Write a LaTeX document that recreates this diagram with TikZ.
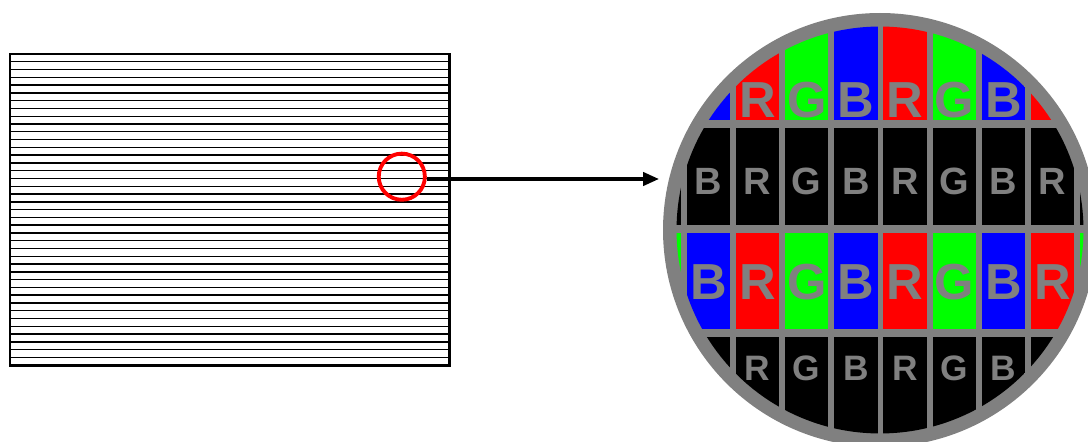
\documentclass[tikz,border=0pt]{standalone}
\usepackage{fontspec}
\setmainfont{Liberation Sans}
\usetikzlibrary{arrows.meta}
\definecolor{pxred}{RGB}{255,0,0}
\definecolor{pxgreen}{RGB}{0,255,0}
\definecolor{pxblue}{RGB}{0,0,255}
\definecolor{ringgray}{RGB}{128,128,128}
\tikzset{
  stripe/.style={line width=1.05pt, black},
  panelframe/.style={line width=1.9pt, black},
  lensring/.style={circle, draw=pxred, line width=2.9pt, minimum size=34.6pt, inner sep=0pt},
  magnifier/.style={circle, fill=ringgray, minimum size=325.5pt, inner sep=0pt},
  zoomarrow/.style={line width=2.5pt, black, -{Triangle[length=12pt,width=10pt]}},
  bigletter/.style={anchor=base, inner sep=0pt, text=ringgray, font=\bfseries\fontsize{38}{38}\selectfont},
  midletter/.style={anchor=base, inner sep=0pt, text=ringgray, font=\bfseries\fontsize{28.5}{29}\selectfont},
  smallletter/.style={anchor=base, inner sep=0pt, text=ringgray, font=\bfseries\fontsize{26.5}{27}\selectfont},
}
\begin{document}
\begin{tikzpicture}[x=0.75pt,y=-0.75pt]
\useasboundingbox (0,0) rectangle (1088,442);
% striped panel
\foreach \i in {1,...,39}{
  \draw[stripe] (10,{54+7.78*\i}) -- (449.5,{54+7.78*\i});
}
\draw[panelframe] (10,54) rectangle (449.5,365.3);
% lens marker
\node[lensring] (lens) at (401.8,176.7) {};
% magnifier
\node[magnifier] (magn) at (880,230) {};
\coordinate (tip) at (659,179);
\draw[zoomarrow] (lens.east |- tip) -- (tip);
\begin{scope}
  \clip (880,230) circle[radius=152.6pt];
  \foreach \k/\c/\L in {-1/pxgreen/G,0/pxblue/B,1/pxred/R,2/pxgreen/G,3/pxblue/B,4/pxred/R,5/pxgreen/G,6/pxblue/B,7/pxred/R,8/pxgreen/G}{
    \pgfmathsetmacro\xl{686.7+49.16*\k}
    \pgfmathsetmacro\xc{\xl+21.7}
    \fill[\c] (\xl,23.8) rectangle ++(43.4,96.7);
    \fill[black] (\xl,128.3) rectangle ++(43.4,96.7);
    \fill[\c] (\xl,232.7) rectangle ++(43.4,96.7);
    \fill[black] (\xl,337.3) rectangle ++(43.4,96.7);
    \ifnum\k>0 \ifnum\k<7
      \node[bigletter] (ra\k) at (\xc,118) {\L};
      \node[smallletter] (rd\k) at (\xc,380) {\L};
    \fi\fi
    \ifnum\k>-1 \ifnum\k<8
      \node[midletter] (rb\k) at (\xc,195) {\L};
      \node[bigletter] (rc\k) at (\xc,299) {\L};
    \fi\fi
  }
\end{scope}
\end{tikzpicture}
\end{document}
